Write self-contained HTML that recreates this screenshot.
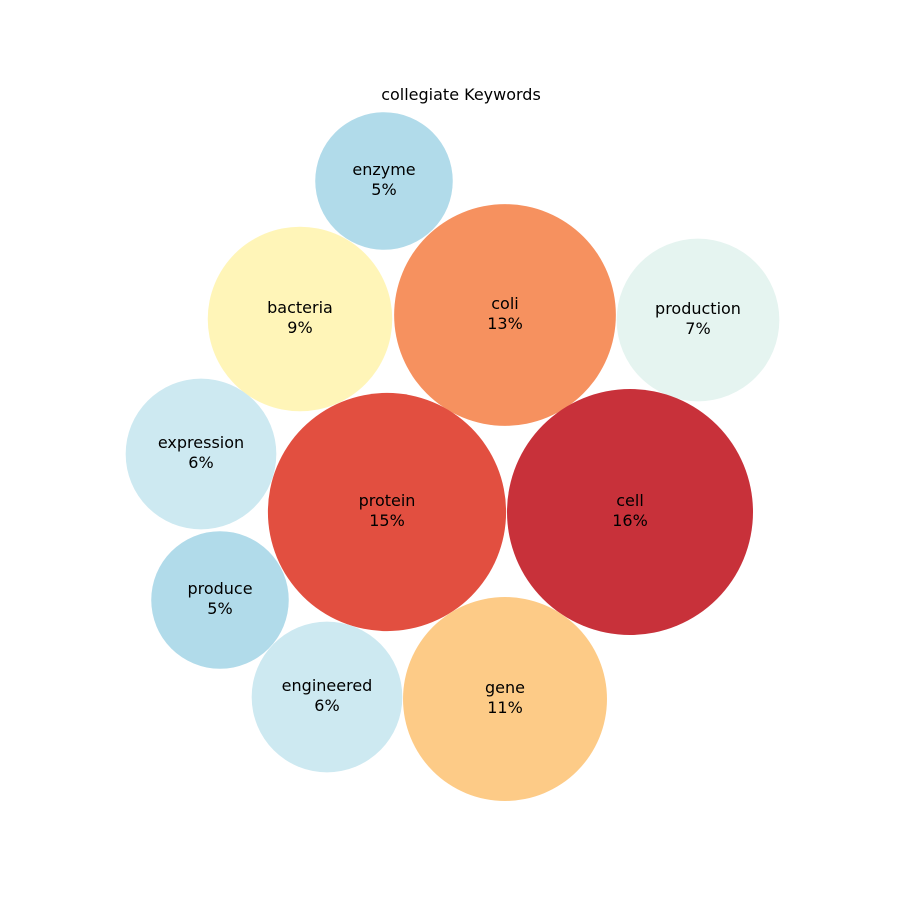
<!DOCTYPE html>
<html><head><meta charset="utf-8"><style>
html,body{margin:0;padding:0;background:#fff}
svg{display:block;font-family:"DejaVu Sans","Liberation Sans",sans-serif}
</style></head><body>
<svg id="chart" width="900" height="900" viewBox="0 0 900 900">
<rect width="900" height="900" fill="#fff"/>
<text x="461" y="100" text-anchor="middle" font-size="16" fill="#000">collegiate Keywords</text>
<g id="bubbles"></g>
</svg>
<script>
const categories = ["enzyme","bacteria","coli","production","expression","protein","cell","produce","engineered","gene"];
const percents = [5,9,13,7,6,15,16,5,6,11];
const colors = ["#b1dbea","#fff5b8","#f6915f","#e5f4f0","#cde9f1","#e24f40","#c8313a","#b1dbea","#cde9f1","#fdcb87"];
// packed layout centers (layout units)
const layoutX = [384,300,505,698,201,387,630,220,327,505];
const layoutY = [181,319,315,320,454,512,512,600,697,699];
const rScale = v => 30.75*Math.sqrt(v);
const g = document.getElementById('bubbles');
const NS = "http://www.w3.org/2000/svg";
categories.forEach((c,i)=>{
  const grp = document.createElementNS(NS,'g');
  
  
  const circ = document.createElementNS(NS,'circle');
  circ.setAttribute('cx', layoutX[i]);
  circ.setAttribute('cy', layoutY[i]);
  circ.setAttribute('r', rScale(percents[i]));
  circ.setAttribute('fill', colors[i]);
  
  
  grp.appendChild(circ);
  const t = document.createElementNS(NS,'text');
  t.setAttribute('x', layoutX[i]);
  t.setAttribute('y', layoutY[i]-6);
  t.setAttribute('text-anchor','middle');
  t.setAttribute('font-size','16');
  
  
  const s1 = document.createElementNS(NS,'tspan');
  s1.setAttribute('x', layoutX[i]);
  s1.textContent = c;
  const s2 = document.createElementNS(NS,'tspan');
  s2.setAttribute('x', layoutX[i]);
  s2.setAttribute('dy','20');
  s2.textContent = percents[i]+'%';
  t.appendChild(s1); t.appendChild(s2);
  grp.appendChild(t);
  g.appendChild(grp);
});
</script>
</body></html>
